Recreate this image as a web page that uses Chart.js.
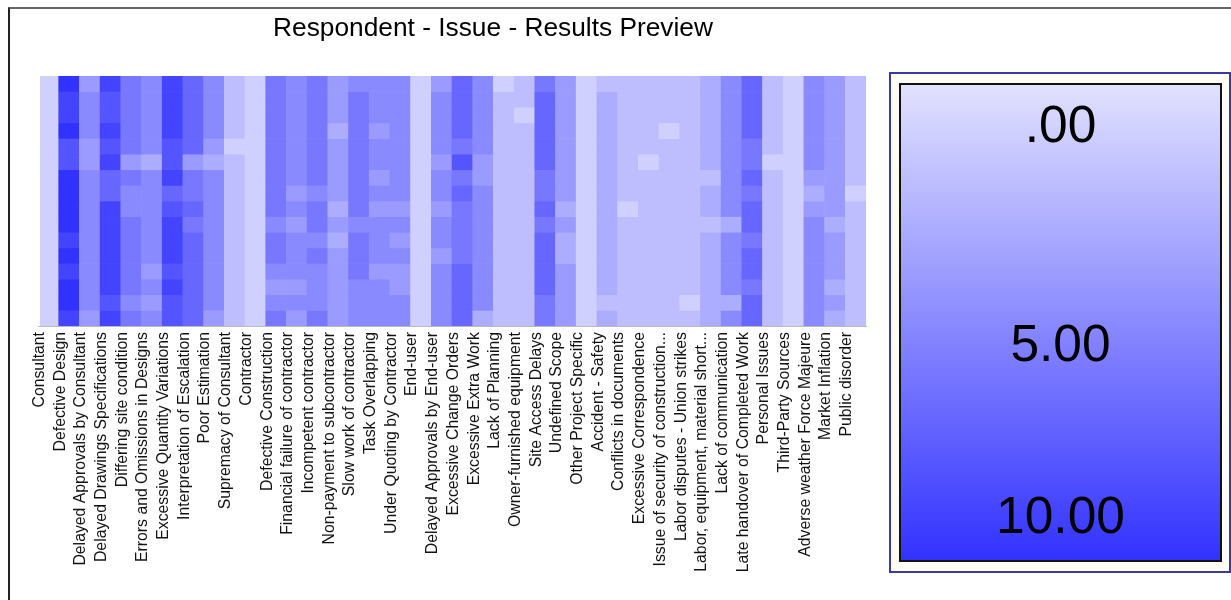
<!DOCTYPE html>
<html>
<head>
<meta charset="utf-8">
<title>Respondent - Issue - Results Preview</title>
<script src="https://cdn.jsdelivr.net/npm/chart.js@4/dist/chart.umd.min.js"></script>
<style>
  html, body { margin: 0; padding: 0; background: #fff; overflow: hidden; width: 1231px; height: 600px; }
  #frame { position: absolute; left: 8px; top: 7px; width: 1300px; height: 700px; border-top: 2px solid #666; border-left: 2px solid #222; }
  #chart { position: absolute; left: 0; top: 0; }
  #legendBox { position: absolute; left: 889px; top: 72px; width: 342px; height: 501px; background: #fffbf5; border: 2px solid #3a3aa0; box-sizing: border-box; }
  #legendRamp { position: absolute; left: 899px; top: 83px; width: 323px; height: 479px; box-sizing: border-box; border: 2px solid #111; }
  .legendTick { position: absolute; left: 899px; width: 323px; text-align: center; font: 51.5px "Liberation Sans", Arial, sans-serif; line-height: 60px; color: #000; }
</style>
</head>
<body>
<div id="frame"></div>
<canvas id="chart" width="986" height="600"></canvas>
<div id="legendBox"></div>
<div id="legendRamp"></div>

<script>
const titleText = 'Respondent - Issue - Results Preview';

const categories = [
  'Consultant', 'Defective Design', 'Delayed Approvals by Consultant', 'Delayed Drawings Specifications',
  'Differing site condition', 'Errors and Omissions in Designs', 'Excessive Quantity Variations',
  'Interpretation of Escalation', 'Poor Estimation', 'Supremacy of Consultant', 'Contractor',
  'Defective Construction', 'Financial failure of contractor', 'Incompetent contractor',
  'Non-payment to subcontractor', 'Slow work of contractor', 'Task Overlapping', 'Under Quoting by Contractor',
  'End-user', 'Delayed Approvals by End-user', 'Excessive Change Orders', 'Excessive Extra Work',
  'Lack of Planning', 'Owner-furnished equipment', 'Site Access Delays', 'Undefined Scope',
  'Other Project Specific', 'Accident - Safety', 'Conflicts in documents', 'Excessive Correspondence',
  'Issue of security of construction...', 'Labor disputes - Union strikes', 'Labor, equipment, material short...',
  'Lack of communication', 'Late handover of Completed Work', 'Personal Issues', 'Third-Party Sources',
  'Adverse weather Force Majeure', 'Market Inflation', 'Public disorder'
];

// one list per category, one value per respondent (top to bottom)
const cellValues = [
  [1,1,1,1,1,1,1,1,1,1,1,1,1,1,1,1],
  [10,9,9,10,8,8,10,10,10,10,9,10,9,10,10,9],
  [4,5,5,5,4,4,5,5,5,5,5,5,5,5,5,4],
  [9,8,8,9,8,9,7,7,9,9,9,9,9,9,8,9],
  [6,6,6,6,6,4,6,5,5,6,6,6,6,6,5,6],
  [5,5,5,5,5,3,5,5,5,5,5,5,4,5,4,5],
  [9,9,9,9,8,8,9,7,8,9,9,9,8,9,8,8],
  [7,7,7,7,7,4,6,6,7,6,7,7,7,7,7,7],
  [5,5,5,5,4,3,5,5,5,5,5,5,5,5,5,4],
  [2,2,2,2,1,2,2,2,2,2,2,2,2,2,2,2],
  [1,1,1,1,1,1,1,1,1,1,1,1,1,1,1,1],
  [6,6,6,6,6,6,6,6,6,5,6,6,5,4,5,6],
  [5,5,5,5,5,5,5,4,5,4,5,5,5,4,5,4],
  [6,6,6,6,6,6,6,5,6,6,5,6,5,5,5,6],
  [4,4,4,3,4,4,4,4,3,4,3,4,4,4,4,4],
  [5,6,6,6,6,6,6,6,6,5,6,6,6,5,5,5],
  [5,5,5,4,5,5,4,5,4,5,5,5,4,5,5,5],
  [5,5,5,5,5,5,5,5,4,5,4,5,4,4,5,5],
  [1,1,1,1,1,1,1,1,1,1,1,1,1,1,1,1],
  [4,5,5,5,5,4,5,5,4,5,5,4,5,5,5,5],
  [7,7,7,7,6,8,6,7,6,6,6,6,7,7,7,7],
  [5,5,5,5,5,4,4,5,5,5,5,5,5,5,5,3],
  [1,2,2,2,2,2,2,2,2,2,2,2,2,2,2,2],
  [2,2,1,2,2,2,2,2,2,2,2,2,2,2,2,2],
  [6,7,7,7,7,7,6,6,7,6,7,7,7,7,6,6],
  [4,4,4,4,4,4,4,4,3,4,3,3,4,4,4,4],
  [1,1,1,1,1,1,1,1,1,1,1,1,1,1,1,1],
  [2,3,3,3,3,3,3,3,3,3,3,3,3,3,2,3],
  [2,2,2,2,2,2,2,2,1,2,2,2,2,2,2,2],
  [2,2,2,2,2,1,2,2,2,2,2,2,2,2,2,2],
  [2,2,2,1,2,2,2,2,2,2,2,2,2,2,2,2],
  [2,2,2,2,2,2,2,2,2,2,2,2,2,2,1,2],
  [3,3,3,3,3,3,2,3,3,2,3,3,3,3,3,3],
  [5,5,5,5,5,5,5,5,5,3,5,5,5,5,3,5],
  [7,7,7,7,6,6,7,6,7,7,6,7,7,6,7,7],
  [2,2,2,2,2,1,2,2,2,2,2,2,2,2,2,2],
  [1,1,1,1,1,1,1,1,1,1,1,1,1,1,1,1],
  [5,5,5,5,5,5,4,3,4,5,5,5,5,5,5,5],
  [4,4,4,4,4,4,4,4,4,3,4,4,4,3,4,3],
  [2,2,2,2,2,2,2,1,2,2,2,2,2,2,2,2]
];

const legendValues = [0, 5, 10];
const legendLabels = ['.00', '5.00', '10.00'];
const legendTops = [94, 313, 485];

// 0 is pale lilac, 10 is full blue
function shade(v) {
  const c = Math.round(225 - 17.5 * v);
  return `rgb(${c},${c},255)`;
}

const rowCount = cellValues[0].length;
const datasets = [];
for (let r = 0; r < rowCount; r++) {
  const colors = cellValues.map(col => shade(col[r]));
  datasets.push({
    label: 'Respondent ' + (r + 1),
    data: categories.map(() => 1),
    backgroundColor: colors,
    borderWidth: 0,
    barPercentage: 1,
    categoryPercentage: 1,
    clip: { left: -2, right: 0, top: 0, bottom: 0 },
  });
}

// hidden side axes only hold the margins, so the title stays centred on the canvas
const spacerAxis = (position, width) => ({
  position,
  display: true,
  min: 0,
  max: rowCount,
  reverse: true,
  stacked: true,
  ticks: { display: false },
  grid: { display: false, drawTicks: false },
  border: { display: false },
  afterFit: scale => { scale.width = width; },
});

new Chart(document.getElementById('chart'), {
  type: 'bar',
  data: { labels: categories, datasets },
  options: {
    responsive: false,
    animation: false,
    plugins: {
      legend: { display: false },
      tooltip: { enabled: false },
      title: {
        display: true,
        text: titleText,
        color: '#000',
        font: { family: '"Liberation Sans", Arial, sans-serif', size: 26.3, weight: 'normal', lineHeight: 1.2 },
        padding: { top: 13, bottom: 31.4 },
      },
    },
    scales: {
      x: {
        stacked: true,
        grid: { display: false, drawTicks: false },
        border: { display: true, color: '#bbb', dash: [1, 1], width: 1 },
        ticks: {
          autoSkip: false,
          minRotation: 90,
          maxRotation: 90,
          labelOffset: -8.85,
          padding: 6,
          color: '#111',
          font: { family: '"Liberation Sans", Arial, sans-serif', size: 15.8 },
        },
        afterFit: scale => { scale.height = 274; },
      },
      y: spacerAxis('left', 38),
      yRight: spacerAxis('right', 120),
    },
  },
});

// colour legend
document.getElementById('legendRamp').style.background =
  `linear-gradient(to bottom, ${shade(legendValues[0])}, ${shade(legendValues[2])})`;
legendLabels.forEach((text, i) => {
  const el = document.createElement('div');
  el.className = 'legendTick';
  el.style.top = legendTops[i] + 'px';
  el.textContent = text;
  document.body.appendChild(el);
});
</script>
</body>
</html>
